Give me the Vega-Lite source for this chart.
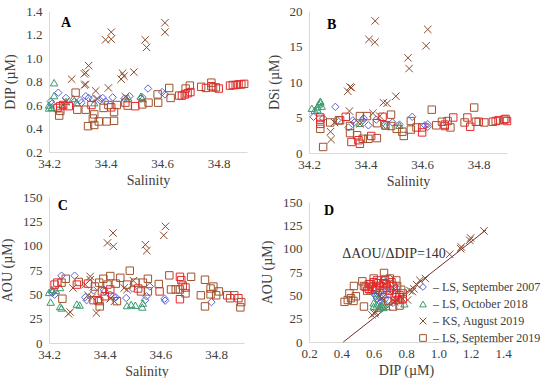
{
"$schema": "https://vega.github.io/schema/vega-lite/v6.json",
"padding": {"left": 0, "top": 5, "right": 0, "bottom": 0},
"datasets": {
"A": [
{"x":34.233,"y":0.705,"s":"LS, September 2007"},{"x":34.206,"y":0.63,"s":"LS, September 2007"},{"x":34.21,"y":0.61,"s":"LS, September 2007"},{"x":34.33,"y":0.675,"s":"LS, September 2007"},{"x":34.39,"y":0.66,"s":"LS, September 2007"},{"x":34.425,"y":0.665,"s":"LS, September 2007"},{"x":34.55,"y":0.74,"s":"LS, September 2007"},{"x":34.485,"y":0.675,"s":"LS, September 2007"},{"x":34.53,"y":0.665,"s":"LS, September 2007"},{"x":34.315,"y":0.62,"s":"LS, September 2007"},{"x":34.31,"y":0.64,"s":"LS, September 2007"},{"x":34.355,"y":0.65,"s":"LS, September 2007"},{"x":34.467,"y":0.655,"s":"LS, September 2007"},{"x":34.525,"y":0.655,"s":"LS, September 2007"},{"x":34.60,"y":0.71,"s":"LS, September 2007"},{"x":34.61,"y":0.69,"s":"LS, September 2007"},{"x":34.26,"y":0.66,"s":"LS, September 2007"},{"x":34.38,"y":0.64,"s":"LS, September 2007"},{"x":34.40,"y":0.63,"s":"LS, September 2007"},{"x":34.34,"y":0.66,"s":"LS, September 2007"},{"x":34.29,"y":0.63,"s":"LS, September 2007"},
{"x":34.218,"y":0.79,"s":"LS, October 2018"},{"x":34.218,"y":0.68,"s":"LS, October 2018"},{"x":34.20,"y":0.60,"s":"LS, October 2018"},{"x":34.20,"y":0.575,"s":"LS, October 2018"},{"x":34.285,"y":0.655,"s":"LS, October 2018"},{"x":34.297,"y":0.62,"s":"LS, October 2018"},{"x":34.26,"y":0.63,"s":"LS, October 2018"},{"x":34.36,"y":0.62,"s":"LS, October 2018"},{"x":34.48,"y":0.66,"s":"LS, October 2018"},{"x":34.525,"y":0.675,"s":"LS, October 2018"},{"x":34.53,"y":0.655,"s":"LS, October 2018"},{"x":34.21,"y":0.58,"s":"LS, October 2018"},
{"x":34.61,"y":1.30,"s":"KS, August 2019"},{"x":34.61,"y":1.22,"s":"KS, August 2019"},{"x":34.42,"y":1.22,"s":"KS, August 2019"},{"x":34.40,"y":1.155,"s":"KS, August 2019"},{"x":34.42,"y":1.16,"s":"KS, August 2019"},{"x":34.54,"y":1.155,"s":"KS, August 2019"},{"x":34.545,"y":1.09,"s":"KS, August 2019"},{"x":34.34,"y":0.935,"s":"KS, August 2019"},{"x":34.33,"y":0.875,"s":"KS, August 2019"},{"x":34.325,"y":0.865,"s":"KS, August 2019"},{"x":34.33,"y":0.775,"s":"KS, August 2019"},{"x":34.325,"y":0.77,"s":"KS, August 2019"},{"x":34.46,"y":0.87,"s":"KS, August 2019"},{"x":34.465,"y":0.845,"s":"KS, August 2019"},{"x":34.455,"y":0.82,"s":"KS, August 2019"},{"x":34.50,"y":0.88,"s":"KS, August 2019"},{"x":34.28,"y":0.82,"s":"KS, August 2019"},{"x":34.41,"y":0.745,"s":"KS, August 2019"},{"x":34.365,"y":0.72,"s":"KS, August 2019"},{"x":34.26,"y":0.63,"s":"KS, August 2019"},{"x":34.47,"y":0.67,"s":"KS, August 2019"},{"x":34.37,"y":0.655,"s":"KS, August 2019"},{"x":34.25,"y":0.60,"s":"KS, August 2019"},
{"x":34.294,"y":0.705,"s":"LS, September 2019"},{"x":34.236,"y":0.51,"s":"LS, September 2019"},{"x":34.30,"y":0.56,"s":"LS, September 2019"},{"x":34.338,"y":0.42,"s":"LS, September 2019"},{"x":34.36,"y":0.43,"s":"LS, September 2019"},{"x":34.355,"y":0.485,"s":"LS, September 2019"},{"x":34.376,"y":0.46,"s":"LS, September 2019"},{"x":34.404,"y":0.46,"s":"LS, September 2019"},{"x":34.43,"y":0.465,"s":"LS, September 2019"},{"x":34.43,"y":0.54,"s":"LS, September 2019"},{"x":34.393,"y":0.575,"s":"LS, September 2019"},{"x":34.36,"y":0.52,"s":"LS, September 2019"},{"x":34.33,"y":0.56,"s":"LS, September 2019"},{"x":34.44,"y":0.60,"s":"LS, September 2019"},{"x":34.53,"y":0.605,"s":"LS, September 2019"},{"x":34.552,"y":0.62,"s":"LS, September 2019"},{"x":34.586,"y":0.62,"s":"LS, September 2019"},{"x":34.584,"y":0.69,"s":"LS, September 2019"},{"x":34.625,"y":0.745,"s":"LS, September 2019"},{"x":34.63,"y":0.66,"s":"LS, September 2019"},{"x":34.683,"y":0.74,"s":"LS, September 2019"},{"x":34.698,"y":0.765,"s":"LS, September 2019"},{"x":34.738,"y":0.755,"s":"LS, September 2019"},{"x":34.774,"y":0.79,"s":"LS, September 2019"},{"x":34.78,"y":0.75,"s":"LS, September 2019"},{"x":34.79,"y":0.75,"s":"LS, September 2019"},{"x":34.86,"y":0.77,"s":"LS, September 2019"},{"x":34.88,"y":0.775,"s":"LS, September 2019"},{"x":34.24,"y":0.55,"s":"LS, September 2019"},{"x":34.41,"y":0.60,"s":"LS, September 2019"},{"x":34.47,"y":0.62,"s":"LS, September 2019"},{"x":34.66,"y":0.68,"s":"LS, September 2019"},
{"x":34.23,"y":0.575,"s":"LS, September 2019 (b)"},{"x":34.24,"y":0.59,"s":"LS, September 2019 (b)"},{"x":34.25,"y":0.60,"s":"LS, September 2019 (b)"},{"x":34.27,"y":0.59,"s":"LS, September 2019 (b)"},{"x":34.478,"y":0.595,"s":"LS, September 2019 (b)"},{"x":34.505,"y":0.59,"s":"LS, September 2019 (b)"},{"x":34.67,"y":0.68,"s":"LS, September 2019 (b)"},{"x":34.68,"y":0.69,"s":"LS, September 2019 (b)"},{"x":34.69,"y":0.70,"s":"LS, September 2019 (b)"},{"x":34.70,"y":0.71,"s":"LS, September 2019 (b)"},{"x":34.755,"y":0.745,"s":"LS, September 2019 (b)"},{"x":34.774,"y":0.76,"s":"LS, September 2019 (b)"},{"x":34.84,"y":0.765,"s":"LS, September 2019 (b)"},{"x":34.85,"y":0.77,"s":"LS, September 2019 (b)"},{"x":34.87,"y":0.775,"s":"LS, September 2019 (b)"},{"x":34.89,"y":0.78,"s":"LS, September 2019 (b)"},{"x":34.35,"y":0.60,"s":"LS, September 2019 (b)"},{"x":34.42,"y":0.58,"s":"LS, September 2019 (b)"},{"x":34.80,"y":0.74,"s":"LS, September 2019 (b)"}
],
"B": [
{"x":34.293,"y":6.5,"s":"LS, September 2007"},{"x":34.216,"y":5.1,"s":"LS, September 2007"},{"x":34.565,"y":5.1,"s":"LS, September 2007"},{"x":34.62,"y":4.05,"s":"LS, September 2007"},{"x":34.62,"y":3.7,"s":"LS, September 2007"},{"x":34.30,"y":4.6,"s":"LS, September 2007"},{"x":34.355,"y":4.6,"s":"LS, September 2007"},{"x":34.39,"y":4.6,"s":"LS, September 2007"},{"x":34.393,"y":4.9,"s":"LS, September 2007"},{"x":34.438,"y":4.7,"s":"LS, September 2007"},{"x":34.495,"y":4.3,"s":"LS, September 2007"},{"x":34.52,"y":4.0,"s":"LS, September 2007"},{"x":34.34,"y":3.6,"s":"LS, September 2007"},{"x":34.36,"y":4.3,"s":"LS, September 2007"},{"x":34.41,"y":3.9,"s":"LS, September 2007"},{"x":34.47,"y":4.0,"s":"LS, September 2007"},{"x":34.25,"y":4.9,"s":"LS, September 2007"},{"x":34.61,"y":3.9,"s":"LS, September 2007"},
{"x":34.21,"y":6.3,"s":"LS, October 2018"},{"x":34.23,"y":6.5,"s":"LS, October 2018"},{"x":34.235,"y":6.9,"s":"LS, October 2018"},{"x":34.24,"y":7.1,"s":"LS, October 2018"},{"x":34.245,"y":6.6,"s":"LS, October 2018"},{"x":34.23,"y":6.1,"s":"LS, October 2018"},{"x":34.22,"y":6.0,"s":"LS, October 2018"},{"x":34.38,"y":4.2,"s":"LS, October 2018"},{"x":34.47,"y":3.8,"s":"LS, October 2018"},{"x":34.52,"y":3.9,"s":"LS, October 2018"},{"x":34.24,"y":7.3,"s":"LS, October 2018"},
{"x":34.434,"y":18.6,"s":"KS, August 2019"},{"x":34.412,"y":16.0,"s":"KS, August 2019"},{"x":34.433,"y":15.6,"s":"KS, August 2019"},{"x":34.62,"y":17.4,"s":"KS, August 2019"},{"x":34.614,"y":15.1,"s":"KS, August 2019"},{"x":34.55,"y":13.4,"s":"KS, August 2019"},{"x":34.554,"y":11.9,"s":"KS, August 2019"},{"x":34.345,"y":9.3,"s":"KS, August 2019"},{"x":34.337,"y":8.7,"s":"KS, August 2019"},{"x":34.35,"y":9.2,"s":"KS, August 2019"},{"x":34.507,"y":8.0,"s":"KS, August 2019"},{"x":34.463,"y":7.1,"s":"KS, August 2019"},{"x":34.476,"y":7.0,"s":"KS, August 2019"},{"x":34.343,"y":5.9,"s":"KS, August 2019"},{"x":34.426,"y":5.6,"s":"KS, August 2019"},{"x":34.276,"y":3.0,"s":"KS, August 2019"},{"x":34.278,"y":1.9,"s":"KS, August 2019"},{"x":34.38,"y":4.1,"s":"KS, August 2019"},{"x":34.29,"y":4.3,"s":"KS, August 2019"},{"x":34.45,"y":5.2,"s":"KS, August 2019"},
{"x":34.25,"y":0.85,"s":"LS, September 2019"},{"x":34.24,"y":4.7,"s":"LS, September 2019"},{"x":34.24,"y":3.4,"s":"LS, September 2019"},{"x":34.275,"y":4.3,"s":"LS, September 2019"},{"x":34.305,"y":4.6,"s":"LS, September 2019"},{"x":34.31,"y":4.6,"s":"LS, September 2019"},{"x":34.345,"y":2.8,"s":"LS, September 2019"},{"x":34.37,"y":2.5,"s":"LS, September 2019"},{"x":34.39,"y":2.0,"s":"LS, September 2019"},{"x":34.41,"y":2.0,"s":"LS, September 2019"},{"x":34.44,"y":2.1,"s":"LS, September 2019"},{"x":34.345,"y":3.8,"s":"LS, September 2019"},{"x":34.38,"y":5.2,"s":"LS, September 2019"},{"x":34.405,"y":5.2,"s":"LS, September 2019"},{"x":34.49,"y":5.4,"s":"LS, September 2019"},{"x":34.47,"y":3.9,"s":"LS, September 2019"},{"x":34.49,"y":3.8,"s":"LS, September 2019"},{"x":34.51,"y":3.4,"s":"LS, September 2019"},{"x":34.535,"y":2.4,"s":"LS, September 2019"},{"x":34.56,"y":4.5,"s":"LS, September 2019"},{"x":34.56,"y":3.3,"s":"LS, September 2019"},{"x":34.634,"y":6.1,"s":"LS, September 2019"},{"x":34.65,"y":3.9,"s":"LS, September 2019"},{"x":34.67,"y":4.4,"s":"LS, September 2019"},{"x":34.69,"y":4.5,"s":"LS, September 2019"},{"x":34.70,"y":3.6,"s":"LS, September 2019"},{"x":34.75,"y":4.3,"s":"LS, September 2019"},{"x":34.784,"y":6.4,"s":"LS, September 2019"},{"x":34.79,"y":4.4,"s":"LS, September 2019"},{"x":34.82,"y":4.3,"s":"LS, September 2019"},{"x":34.86,"y":4.5,"s":"LS, September 2019"},{"x":34.89,"y":4.7,"s":"LS, September 2019"},{"x":34.58,"y":3.6,"s":"LS, September 2019"},{"x":34.44,"y":4.2,"s":"LS, September 2019"},{"x":34.53,"y":3.0,"s":"LS, September 2019"},
{"x":34.24,"y":5.0,"s":"LS, September 2019 (b)"},{"x":34.24,"y":4.1,"s":"LS, September 2019 (b)"},{"x":34.35,"y":1.55,"s":"LS, September 2019 (b)"},{"x":34.375,"y":1.8,"s":"LS, September 2019 (b)"},{"x":34.38,"y":1.3,"s":"LS, September 2019 (b)"},{"x":34.46,"y":5.1,"s":"LS, September 2019 (b)"},{"x":34.60,"y":3.6,"s":"LS, September 2019 (b)"},{"x":34.60,"y":2.9,"s":"LS, September 2019 (b)"},{"x":34.68,"y":4.0,"s":"LS, September 2019 (b)"},{"x":34.71,"y":5.0,"s":"LS, September 2019 (b)"},{"x":34.76,"y":5.0,"s":"LS, September 2019 (b)"},{"x":34.77,"y":3.7,"s":"LS, September 2019 (b)"},{"x":34.80,"y":4.4,"s":"LS, September 2019 (b)"},{"x":34.85,"y":4.4,"s":"LS, September 2019 (b)"},{"x":34.87,"y":4.6,"s":"LS, September 2019 (b)"},{"x":34.895,"y":4.8,"s":"LS, September 2019 (b)"},{"x":34.90,"y":4.5,"s":"LS, September 2019 (b)"},{"x":34.33,"y":5.1,"s":"LS, September 2019 (b)"},{"x":34.42,"y":2.4,"s":"LS, September 2019 (b)"},{"x":34.68,"y":3.8,"s":"LS, September 2019 (b)"}
],
"C": [
{"x":34.245,"y":69.2,"s":"LS, September 2007"},{"x":34.292,"y":69.2,"s":"LS, September 2007"},{"x":34.215,"y":53,"s":"LS, September 2007"},{"x":34.22,"y":49.6,"s":"LS, September 2007"},{"x":34.212,"y":51.4,"s":"LS, September 2007"},{"x":34.397,"y":54.8,"s":"LS, September 2007"},{"x":34.40,"y":53,"s":"LS, September 2007"},{"x":34.42,"y":49.6,"s":"LS, September 2007"},{"x":34.43,"y":48,"s":"LS, September 2007"},{"x":34.44,"y":47,"s":"LS, September 2007"},{"x":34.33,"y":47,"s":"LS, September 2007"},{"x":34.335,"y":44,"s":"LS, September 2007"},{"x":34.477,"y":46.2,"s":"LS, September 2007"},{"x":34.55,"y":48,"s":"LS, September 2007"},{"x":34.545,"y":44,"s":"LS, September 2007"},{"x":34.562,"y":58,"s":"LS, September 2007"},{"x":34.615,"y":45.5,"s":"LS, September 2007"},{"x":34.617,"y":43.5,"s":"LS, September 2007"},{"x":34.783,"y":42,"s":"LS, September 2007"},{"x":34.50,"y":56,"s":"LS, September 2007"},{"x":34.36,"y":54,"s":"LS, September 2007"},
{"x":34.20,"y":52,"s":"LS, October 2018"},{"x":34.21,"y":55,"s":"LS, October 2018"},{"x":34.225,"y":54,"s":"LS, October 2018"},{"x":34.24,"y":57,"s":"LS, October 2018"},{"x":34.206,"y":42,"s":"LS, October 2018"},{"x":34.24,"y":37.5,"s":"LS, October 2018"},{"x":34.245,"y":36,"s":"LS, October 2018"},{"x":34.30,"y":40,"s":"LS, October 2018"},{"x":34.31,"y":39,"s":"LS, October 2018"},{"x":34.48,"y":38.5,"s":"LS, October 2018"},{"x":34.495,"y":39.6,"s":"LS, October 2018"},{"x":34.51,"y":38.8,"s":"LS, October 2018"},{"x":34.535,"y":37,"s":"LS, October 2018"},{"x":34.537,"y":41,"s":"LS, October 2018"},
{"x":34.618,"y":119.8,"s":"KS, August 2019"},{"x":34.612,"y":110.6,"s":"KS, August 2019"},{"x":34.43,"y":113,"s":"KS, August 2019"},{"x":34.41,"y":102.8,"s":"KS, August 2019"},{"x":34.431,"y":99.3,"s":"KS, August 2019"},{"x":34.546,"y":101,"s":"KS, August 2019"},{"x":34.551,"y":94.9,"s":"KS, August 2019"},{"x":34.276,"y":31.8,"s":"KS, August 2019"},{"x":34.27,"y":30,"s":"KS, August 2019"},{"x":34.37,"y":30.8,"s":"KS, August 2019"},{"x":34.348,"y":68.4,"s":"KS, August 2019"},{"x":34.348,"y":65,"s":"KS, August 2019"},{"x":34.503,"y":64,"s":"KS, August 2019"},{"x":34.47,"y":56.5,"s":"KS, August 2019"},{"x":34.48,"y":54.8,"s":"KS, August 2019"},{"x":34.286,"y":56.5,"s":"KS, August 2019"},{"x":34.34,"y":49,"s":"KS, August 2019"},{"x":34.355,"y":47,"s":"KS, August 2019"},{"x":34.42,"y":45.5,"s":"KS, August 2019"},{"x":34.435,"y":42.8,"s":"KS, August 2019"},{"x":34.33,"y":60,"s":"KS, August 2019"},
{"x":34.245,"y":62,"s":"LS, September 2019"},{"x":34.248,"y":45.5,"s":"LS, September 2019"},{"x":34.307,"y":62.7,"s":"LS, September 2019"},{"x":34.365,"y":58,"s":"LS, September 2019"},{"x":34.38,"y":62,"s":"LS, September 2019"},{"x":34.395,"y":66,"s":"LS, September 2019"},{"x":34.42,"y":68.8,"s":"LS, September 2019"},{"x":34.456,"y":67,"s":"LS, September 2019"},{"x":34.44,"y":61,"s":"LS, September 2019"},{"x":34.41,"y":60,"s":"LS, September 2019"},{"x":34.39,"y":53,"s":"LS, September 2019"},{"x":34.36,"y":44,"s":"LS, September 2019"},{"x":34.382,"y":37.6,"s":"LS, September 2019"},{"x":34.38,"y":43,"s":"LS, September 2019"},{"x":34.444,"y":43,"s":"LS, September 2019"},{"x":34.48,"y":60,"s":"LS, September 2019"},{"x":34.49,"y":74.3,"s":"LS, September 2019"},{"x":34.51,"y":62,"s":"LS, September 2019"},{"x":34.537,"y":62,"s":"LS, September 2019"},{"x":34.555,"y":66,"s":"LS, September 2019"},{"x":34.53,"y":53,"s":"LS, September 2019"},{"x":34.555,"y":53,"s":"LS, September 2019"},{"x":34.594,"y":60.6,"s":"LS, September 2019"},{"x":34.632,"y":69.5,"s":"LS, September 2019"},{"x":34.638,"y":55,"s":"LS, September 2019"},{"x":34.655,"y":55,"s":"LS, September 2019"},{"x":34.68,"y":59,"s":"LS, September 2019"},{"x":34.67,"y":55,"s":"LS, September 2019"},{"x":34.69,"y":51,"s":"LS, September 2019"},{"x":34.71,"y":68,"s":"LS, September 2019"},{"x":34.745,"y":49,"s":"LS, September 2019"},{"x":34.76,"y":65,"s":"LS, September 2019"},{"x":34.78,"y":56,"s":"LS, September 2019"},{"x":34.78,"y":50,"s":"LS, September 2019"},{"x":34.80,"y":49,"s":"LS, September 2019"},{"x":34.81,"y":53,"s":"LS, September 2019"},{"x":34.76,"y":37.6,"s":"LS, September 2019"},{"x":34.85,"y":46,"s":"LS, September 2019"},{"x":34.865,"y":49,"s":"LS, September 2019"},{"x":34.887,"y":36.6,"s":"LS, September 2019"},{"x":34.89,"y":42,"s":"LS, September 2019"},{"x":34.79,"y":58,"s":"LS, September 2019"},{"x":34.26,"y":66,"s":"LS, September 2019"},
{"x":34.23,"y":62,"s":"LS, September 2019 (b)"},{"x":34.22,"y":60,"s":"LS, September 2019 (b)"},{"x":34.34,"y":61,"s":"LS, September 2019 (b)"},{"x":34.375,"y":44,"s":"LS, September 2019 (b)"},{"x":34.597,"y":53,"s":"LS, September 2019 (b)"},{"x":34.67,"y":68,"s":"LS, September 2019 (b)"},{"x":34.675,"y":64.6,"s":"LS, September 2019 (b)"},{"x":34.67,"y":45,"s":"LS, September 2019 (b)"},{"x":34.84,"y":49,"s":"LS, September 2019 (b)"},{"x":34.88,"y":46,"s":"LS, September 2019 (b)"},{"x":34.30,"y":60,"s":"LS, September 2019 (b)"},{"x":34.42,"y":55,"s":"LS, September 2019 (b)"},{"x":34.52,"y":56,"s":"LS, September 2019 (b)"},{"x":34.69,"y":57,"s":"LS, September 2019 (b)"},{"x":34.40,"y":48,"s":"LS, September 2019 (b)"}
],
"D": [
{"x":0.63,"y":53,"s":"LS, September 2007"},{"x":0.61,"y":50,"s":"LS, September 2007"},{"x":0.66,"y":55,"s":"LS, September 2007"},{"x":0.68,"y":54,"s":"LS, September 2007"},{"x":0.70,"y":68,"s":"LS, September 2007"},{"x":0.64,"y":48,"s":"LS, September 2007"},{"x":0.62,"y":47,"s":"LS, September 2007"},{"x":0.67,"y":46,"s":"LS, September 2007"},{"x":0.65,"y":44,"s":"LS, September 2007"},{"x":0.74,"y":58,"s":"LS, September 2007"},{"x":0.71,"y":56,"s":"LS, September 2007"},{"x":0.69,"y":45,"s":"LS, September 2007"},{"x":0.60,"y":52,"s":"LS, September 2007"},{"x":0.66,"y":49,"s":"LS, September 2007"},{"x":0.72,"y":42,"s":"LS, September 2007"},{"x":0.66,"y":66,"s":"LS, September 2007"},{"x":0.63,"y":44,"s":"LS, September 2007"},
{"x":0.60,"y":42,"s":"LS, October 2018"},{"x":0.62,"y":40,"s":"LS, October 2018"},{"x":0.64,"y":38,"s":"LS, October 2018"},{"x":0.66,"y":37,"s":"LS, October 2018"},{"x":0.63,"y":36,"s":"LS, October 2018"},{"x":0.65,"y":39,"s":"LS, October 2018"},{"x":0.60,"y":38,"s":"LS, October 2018"},{"x":0.66,"y":41,"s":"LS, October 2018"},{"x":0.58,"y":55,"s":"LS, October 2018"},{"x":0.62,"y":52,"s":"LS, October 2018"},{"x":0.79,"y":41,"s":"LS, October 2018"},{"x":0.68,"y":38,"s":"LS, October 2018"},
{"x":1.282,"y":119,"s":"KS, August 2019"},{"x":1.20,"y":111.5,"s":"KS, August 2019"},{"x":1.194,"y":109,"s":"KS, August 2019"},{"x":1.142,"y":101.8,"s":"KS, August 2019"},{"x":1.138,"y":100,"s":"KS, August 2019"},{"x":1.07,"y":94,"s":"KS, August 2019"},{"x":0.886,"y":66,"s":"KS, August 2019"},{"x":0.866,"y":61.4,"s":"KS, August 2019"},{"x":0.849,"y":57,"s":"KS, August 2019"},{"x":0.839,"y":54,"s":"KS, August 2019"},{"x":0.825,"y":55,"s":"KS, August 2019"},{"x":0.606,"y":30.3,"s":"KS, August 2019"},{"x":0.61,"y":32,"s":"KS, August 2019"},{"x":0.59,"y":29,"s":"KS, August 2019"},{"x":0.77,"y":48,"s":"KS, August 2019"},{"x":0.81,"y":45,"s":"KS, August 2019"},{"x":0.61,"y":60,"s":"KS, August 2019"},{"x":0.67,"y":62,"s":"KS, August 2019"},{"x":0.72,"y":56,"s":"KS, August 2019"},{"x":0.64,"y":49,"s":"KS, August 2019"},{"x":0.65,"y":47,"s":"KS, August 2019"},{"x":0.74,"y":45,"s":"KS, August 2019"},{"x":0.73,"y":43,"s":"KS, August 2019"},{"x":0.92,"y":68,"s":"KS, August 2019"},
{"x":0.478,"y":60,"s":"LS, September 2019"},{"x":0.45,"y":52,"s":"LS, September 2019"},{"x":0.44,"y":45,"s":"LS, September 2019"},{"x":0.46,"y":47,"s":"LS, September 2019"},{"x":0.475,"y":44,"s":"LS, September 2019"},{"x":0.49,"y":49,"s":"LS, September 2019"},{"x":0.54,"y":38,"s":"LS, September 2019"},{"x":0.664,"y":74,"s":"LS, September 2019"},{"x":0.70,"y":68,"s":"LS, September 2019"},{"x":0.745,"y":60,"s":"LS, September 2019"},{"x":0.77,"y":56,"s":"LS, September 2019"},{"x":0.76,"y":39,"s":"LS, September 2019"},{"x":0.72,"y":38,"s":"LS, September 2019"},{"x":0.69,"y":44,"s":"LS, September 2019"},{"x":0.54,"y":60,"s":"LS, September 2019"},{"x":0.53,"y":65,"s":"LS, September 2019"},{"x":0.57,"y":62,"s":"LS, September 2019"},{"x":0.60,"y":68,"s":"LS, September 2019"},{"x":0.62,"y":58,"s":"LS, September 2019"},{"x":0.68,"y":62,"s":"LS, September 2019"},{"x":0.74,"y":66,"s":"LS, September 2019"},{"x":0.78,"y":52,"s":"LS, September 2019"},{"x":0.56,"y":55,"s":"LS, September 2019"},{"x":0.42,"y":43,"s":"LS, September 2019"},{"x":0.76,"y":48,"s":"LS, September 2019"},{"x":0.66,"y":56,"s":"LS, September 2019"},
{"x":0.58,"y":62,"s":"LS, September 2019 (b)"},{"x":0.60,"y":64,"s":"LS, September 2019 (b)"},{"x":0.62,"y":66,"s":"LS, September 2019 (b)"},{"x":0.64,"y":60,"s":"LS, September 2019 (b)"},{"x":0.66,"y":63,"s":"LS, September 2019 (b)"},{"x":0.57,"y":57,"s":"LS, September 2019 (b)"},{"x":0.59,"y":59,"s":"LS, September 2019 (b)"},{"x":0.68,"y":58,"s":"LS, September 2019 (b)"},{"x":0.70,"y":55,"s":"LS, September 2019 (b)"},{"x":0.72,"y":60,"s":"LS, September 2019 (b)"},{"x":0.74,"y":52,"s":"LS, September 2019 (b)"},{"x":0.76,"y":50,"s":"LS, September 2019 (b)"},{"x":0.78,"y":46,"s":"LS, September 2019 (b)"},{"x":0.75,"y":45,"s":"LS, September 2019 (b)"},{"x":0.73,"y":48,"s":"LS, September 2019 (b)"},{"x":0.61,"y":56,"s":"LS, September 2019 (b)"},{"x":0.63,"y":63,"s":"LS, September 2019 (b)"},{"x":0.67,"y":67,"s":"LS, September 2019 (b)"},{"x":0.71,"y":64,"s":"LS, September 2019 (b)"},{"x":0.55,"y":59,"s":"LS, September 2019 (b)"}
]
},
"hconcat": [
{"vconcat": [
{"width": 198, "height": 141,
 "encoding": {
  "x": {"field": "x", "type": "quantitative", "scale": {"domain": [34.2, 34.9], "nice": false, "zero": false}, "axis": {"title": "Salinity", "values": [34.2, 34.4, 34.6, 34.8], "format": ".1f", "labelOverlap": false, "labelFont": "Liberation Serif", "titleFont": "Liberation Serif", "labelFontSize": 13, "titleFontSize": 14, "titleFontWeight": "normal"}},
  "y": {"field": "y", "type": "quantitative", "scale": {"domain": [0.2, 1.4], "nice": false, "zero": false}, "axis": {"title": "DIP (µM)", "values": [0.2, 0.4, 0.6, 0.8, 1.0, 1.2, 1.4], "format": ".1f", "labelOverlap": false, "labelFont": "Liberation Serif", "titleFont": "Liberation Serif", "labelFontSize": 13, "titleFontSize": 14, "titleFontWeight": "normal"}}
 },
 "layer": [
  {"data": {"name": "A"}, "mark": {"type": "point", "filled": false, "size": 55, "strokeWidth": 1, "opacity": 1},
   "encoding": {
    "color": {"field": "s", "type": "nominal", "scale": {"domain": ["LS, September 2007", "LS, October 2018", "KS, August 2019", "LS, September 2019", "LS, September 2019 (b)"], "range": ["#5a63d6", "#3a9a6e", "#8b4b2b", "#a0522d", "#e8262a"]}, "legend": null},
    "shape": {"field": "s", "type": "nominal", "scale": {"domain": ["LS, September 2007", "LS, October 2018", "KS, August 2019", "LS, September 2019", "LS, September 2019 (b)"], "range": ["diamond", "triangle-up", "M-1,-1L1,1M1,-1L-1,1", "square", "square"]}, "legend": null}
   }},
  {"data": {"values": [{"t": "A", "x": 34.26, "y": 1.3}]}, "mark": {"type": "text", "fontWeight": "bold", "fontSize": 14, "color": "#000000", "font": "Liberation Serif"},
   "encoding": {"text": {"field": "t"}}}
 ]},
{"width": 195, "height": 146,
 "encoding": {
  "x": {"field": "x", "type": "quantitative", "scale": {"domain": [34.2, 34.9], "nice": false, "zero": false}, "axis": {"title": "Salinity", "values": [34.2, 34.4, 34.6, 34.8], "format": ".1f", "labelOverlap": false, "labelFont": "Liberation Serif", "titleFont": "Liberation Serif", "labelFontSize": 13, "titleFontSize": 14, "titleFontWeight": "normal"}},
  "y": {"field": "y", "type": "quantitative", "scale": {"domain": [0, 150], "nice": false}, "axis": {"title": "AOU (µM)", "values": [0, 25, 50, 75, 100, 125, 150], "labelOverlap": false, "labelFont": "Liberation Serif", "titleFont": "Liberation Serif", "labelFontSize": 13, "titleFontSize": 14, "titleFontWeight": "normal"}}
 },
 "layer": [
  {"data": {"name": "C"}, "mark": {"type": "point", "filled": false, "size": 55, "strokeWidth": 1, "opacity": 1},
   "encoding": {
    "color": {"field": "s", "type": "nominal", "scale": {"domain": ["LS, September 2007", "LS, October 2018", "KS, August 2019", "LS, September 2019", "LS, September 2019 (b)"], "range": ["#5a63d6", "#3a9a6e", "#8b4b2b", "#a0522d", "#e8262a"]}, "legend": null},
    "shape": {"field": "s", "type": "nominal", "scale": {"domain": ["LS, September 2007", "LS, October 2018", "KS, August 2019", "LS, September 2019", "LS, September 2019 (b)"], "range": ["diamond", "triangle-up", "M-1,-1L1,1M1,-1L-1,1", "square", "square"]}, "legend": null}
   }},
  {"data": {"values": [{"t": "C", "x": 34.25, "y": 141}]}, "mark": {"type": "text", "fontWeight": "bold", "fontSize": 14, "color": "#000000", "font": "Liberation Serif"},
   "encoding": {"text": {"field": "t"}}}
 ]}
], "spacing": 4, "resolve": {"scale": {"color": "independent", "shape": "independent"}}},
{"vconcat": [
{"width": 198, "height": 142,
 "encoding": {
  "x": {"field": "x", "type": "quantitative", "scale": {"domain": [34.2, 34.9], "nice": false, "zero": false}, "axis": {"title": "Salinity", "values": [34.2, 34.4, 34.6, 34.8], "format": ".1f", "labelOverlap": false, "labelFont": "Liberation Serif", "titleFont": "Liberation Serif", "labelFontSize": 13, "titleFontSize": 14, "titleFontWeight": "normal"}},
  "y": {"field": "y", "type": "quantitative", "scale": {"domain": [0, 20], "nice": false}, "axis": {"title": "DSi (µM)", "values": [0, 5, 10, 15, 20], "labelOverlap": false, "labelFont": "Liberation Serif", "titleFont": "Liberation Serif", "labelFontSize": 13, "titleFontSize": 14, "titleFontWeight": "normal"}}
 },
 "layer": [
  {"data": {"name": "B"}, "mark": {"type": "point", "filled": false, "size": 55, "strokeWidth": 1, "opacity": 1},
   "encoding": {
    "color": {"field": "s", "type": "nominal", "scale": {"domain": ["LS, September 2007", "LS, October 2018", "KS, August 2019", "LS, September 2019", "LS, September 2019 (b)"], "range": ["#5a63d6", "#3a9a6e", "#8b4b2b", "#a0522d", "#e8262a"]}, "legend": null},
    "shape": {"field": "s", "type": "nominal", "scale": {"domain": ["LS, September 2007", "LS, October 2018", "KS, August 2019", "LS, September 2019", "LS, September 2019 (b)"], "range": ["diamond", "triangle-up", "M-1,-1L1,1M1,-1L-1,1", "square", "square"]}, "legend": null}
   }},
  {"data": {"values": [{"t": "B", "x": 34.28, "y": 18}]}, "mark": {"type": "text", "fontWeight": "bold", "fontSize": 14, "color": "#000000", "font": "Liberation Serif"},
   "encoding": {"text": {"field": "t"}}}
 ]},
{"width": 194, "height": 140,
 "encoding": {
  "x": {"field": "x", "type": "quantitative", "scale": {"domain": [0.2, 1.4], "nice": false, "zero": false}, "axis": {"title": "DIP (µM)", "values": [0.2, 0.4, 0.6, 0.8, 1.0, 1.2, 1.4], "format": ".1f", "labelOverlap": false, "labelFont": "Liberation Serif", "titleFont": "Liberation Serif", "labelFontSize": 13, "titleFontSize": 14, "titleFontWeight": "normal"}},
  "y": {"field": "y", "type": "quantitative", "scale": {"domain": [0, 150], "nice": false}, "axis": {"title": "AOU (µM)", "values": [0, 25, 50, 75, 100, 125, 150], "labelOverlap": false, "labelFont": "Liberation Serif", "titleFont": "Liberation Serif", "labelFontSize": 13, "titleFontSize": 14, "titleFontWeight": "normal"}}
 },
 "layer": [
  {"data": {"values": [{"x": 0.412, "y": 0}, {"x": 1.295, "y": 120}]}, "mark": {"type": "line", "color": "#6b3226", "strokeWidth": 1}, "encoding": {}},
  {"data": {"name": "D"}, "mark": {"type": "point", "filled": false, "size": 55, "strokeWidth": 1, "opacity": 1},
   "encoding": {
    "color": {"field": "s", "type": "nominal", "scale": {"domain": ["LS, September 2007", "LS, October 2018", "KS, August 2019", "LS, September 2019", "LS, September 2019 (b)"], "range": ["#5a63d6", "#3a9a6e", "#8b4b2b", "#a0522d", "#e8262a"]},
      "legend": {"orient": "none", "legendX": 108, "legendY": 79, "title": null, "values": ["LS, September 2007", "LS, October 2018", "KS, August 2019", "LS, September 2019"], "labelExpr": "'– ' + datum.label", "labelFont": "Liberation Serif", "labelFontSize": 12, "labelColor": "#404040", "symbolSize": 45, "symbolStrokeWidth": 1, "rowPadding": 5, "padding": 0, "labelOffset": 4}},
    "shape": {"field": "s", "type": "nominal", "scale": {"domain": ["LS, September 2007", "LS, October 2018", "KS, August 2019", "LS, September 2019", "LS, September 2019 (b)"], "range": ["diamond", "triangle-up", "M-1,-1L1,1M1,-1L-1,1", "square", "square"]},
      "legend": {"orient": "none", "legendX": 108, "legendY": 79, "title": null, "values": ["LS, September 2007", "LS, October 2018", "KS, August 2019", "LS, September 2019"], "labelExpr": "'– ' + datum.label", "labelFont": "Liberation Serif", "labelFontSize": 12, "labelColor": "#404040", "symbolSize": 45, "symbolStrokeWidth": 1, "rowPadding": 5, "padding": 0, "labelOffset": 4}}
   }},
  {"data": {"values": [{"t": "ΔAOU/ΔDIP=140", "x": 0.726, "y": 94.6}]}, "mark": {"type": "text", "fontSize": 14, "color": "#333333", "font": "Liberation Serif"},
   "encoding": {"text": {"field": "t"}}},
  {"data": {"values": [{"t": "D", "x": 0.324, "y": 140}]}, "mark": {"type": "text", "fontWeight": "bold", "fontSize": 14, "color": "#000000", "font": "Liberation Serif"},
   "encoding": {"text": {"field": "t"}}}
 ]}
], "spacing": 8, "resolve": {"scale": {"color": "independent", "shape": "independent"}}}
],
"spacing": 10,
"resolve": {"scale": {"color": "independent", "shape": "independent"}},
"config": {
 "font": "Liberation Serif",
 "view": {"stroke": null},
 "axis": {"grid": false, "ticks": false, "domainColor": "#d9d9d9", "labelFont": "Liberation Serif", "labelFontSize": 13, "labelColor": "#404040", "titleFont": "Liberation Serif", "titleFontSize": 14, "titleFontWeight": "normal", "titleColor": "#404040", "labelFlush": false, "labelOverlap": false},
 "axisX": {"titlePadding": 3, "labelPadding": 5},
 "axisY": {"titlePadding": 8, "labelPadding": 7},
 "legend": {"labelFont": "Liberation Serif"},
 "text": {"font": "Liberation Serif"}
}
}
